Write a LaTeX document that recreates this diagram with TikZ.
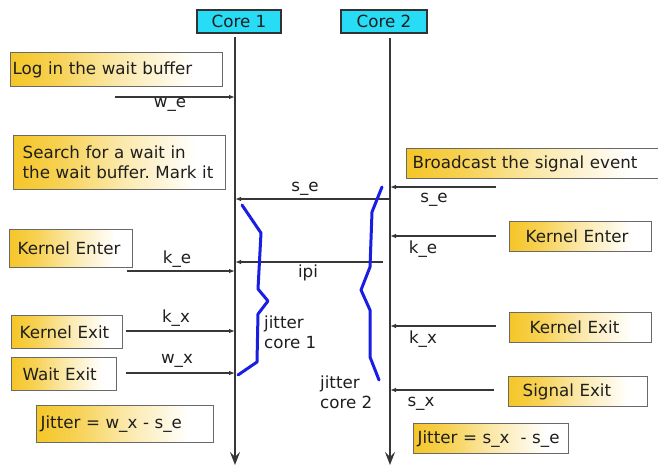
\documentclass[tikz,border=0pt]{standalone}
\usepackage{fontspec}
\setmainfont{DejaVu Sans}
\usetikzlibrary{arrows.meta}
\frenchspacing
\definecolor{gold}{RGB}{245,198,40}
\definecolor{cyanbox}{RGB}{40,220,245}
\definecolor{blueline}{RGB}{25,30,225}
\definecolor{lineg}{RGB}{55,55,55}
\definecolor{boxline}{RGB}{105,105,105}
\definecolor{coreline}{RGB}{50,50,50}
\definecolor{txt}{RGB}{30,30,30}
\pgfdeclarehorizontalshading{goldfade}{100bp}{color(0bp)=(gold); color(25bp)=(gold); color(36bp)=(gold!80!white); color(50bp)=(gold!40!white); color(68bp)=(white); color(100bp)=(white)}
\begin{document}
\begin{tikzpicture}[x=1pt,y=-1pt,
  every node/.style={font=\fontsize{16.7}{20}\selectfont, text=txt},
  core/.style={draw=coreline, line width=1.2pt, fill=cyanbox, minimum width=84pt, minimum height=23pt, inner sep=0pt},
  gbox/.style={draw=boxline, line width=1.3pt, shading=goldfade, anchor=north west, inner ysep=0pt, align=left},
  lbl/.style={inner sep=0pt},
  msg/.style={draw=lineg, line width=1.1pt, -{Latex[length=6pt,width=4.5pt]}},
  life/.style={draw=lineg, line width=1.4pt, -{Stealth[length=13pt,width=10pt,inset=5pt]}},
  jit/.style={draw=blueline, line width=3pt, line join=round, line cap=round}]
\path[use as bounding box] (0,0) rectangle (658,466);
\clip (0,0) rectangle (658,466);

% cores
\node[core] (core1) at (239,21.5) {Core 1};
\node[core, minimum width=86pt] (core2) at (384,21.5) {Core 2};

% lifelines
\coordinate (c1top) at (235,37);
\coordinate (c1bot) at (235,465);
\coordinate (c2top) at (390,38);
\coordinate (c2bot) at (390,465);
\draw[life] (c1top) -- (c1bot);
\draw[life] (c2top) -- (c2bot);

% left boxes
\node[gbox, minimum width=212pt, minimum height=34pt, inner xsep=2pt, text width=208pt] (log) at (10,52) {Log in the wait buffer};
\node[gbox, minimum width=212pt, minimum height=54pt, inner xsep=9pt, text width=194pt] (search) at (13,135) {Search for a wait in\\the wait buffer. Mark it};
\node[gbox, minimum width=123pt, minimum height=38pt, inner xsep=8pt, text width=107pt] (kenterL) at (9,229) {Kernel Enter};
\node[gbox, minimum width=111pt, minimum height=33pt, inner xsep=8pt, text width=95pt] (kexitL) at (11,315) {Kernel Exit};
\node[gbox, minimum width=105pt, minimum height=33pt, inner xsep=11pt, text width=83pt] (waitexit) at (11,357) {Wait Exit};
\node[gbox, minimum width=177pt, minimum height=37pt, inner xsep=4pt, text width=169pt] (jitterL) at (36,405) {Jitter = w\_x - s\_e};

% right boxes
\node[gbox, minimum width=260pt, minimum height=30pt, inner xsep=6pt, text width=248pt] (broadcast) at (406,148) {Broadcast the signal event};
\node[gbox, minimum width=142pt, minimum height=30pt, inner xsep=16pt, text width=110pt] (kenterR) at (509,221) {Kernel Enter};
\node[gbox, minimum width=142pt, minimum height=30pt, inner xsep=20pt, text width=102pt] (kexitR) at (509,312) {Kernel Exit};
\node[gbox, minimum width=139pt, minimum height=30pt, inner xsep=14pt, text width=111pt] (signalexit) at (508,376) {Signal Exit};
\node[gbox, minimum width=155pt, minimum height=30pt, inner xsep=4pt, text width=147pt] (jitterR) at (413,423) {Jitter = s\_x~~- s\_e};

% message endpoints
\coordinate (we0) at (115,97);  \coordinate (we1) at (235,97);
\coordinate (se0) at (389,199); \coordinate (se1) at (235,199);
\coordinate (ipi0) at (383,262); \coordinate (ipi1) at (235,262);
\coordinate (keL0) at (127,271); \coordinate (keL1) at (235,271);
\coordinate (kxL0) at (126,331); \coordinate (kxL1) at (235,331);
\coordinate (wxL0) at (126,373); \coordinate (wxL1) at (235,373);
\coordinate (seR0) at (496,187); \coordinate (seR1) at (390,187);
\coordinate (keR0) at (496,236); \coordinate (keR1) at (390,236);
\coordinate (kxR0) at (496,326); \coordinate (kxR1) at (390,326);
\coordinate (sxR0) at (494,390); \coordinate (sxR1) at (390,390);

\draw[msg] (we0) -- (we1);
\draw[msg] (se0) -- (se1);
\draw[msg] (ipi0) -- (ipi1);
\draw[msg] (keL0) -- (keL1);
\draw[msg] (kxL0) -- (kxL1);
\draw[msg] (wxL0) -- (wxL1);
\draw[msg] (seR0) -- (seR1);
\draw[msg] (keR0) -- (keR1);
\draw[msg] (kxR0) -- (kxR1);
\draw[msg] (sxR0) -- (sxR1);

% message labels
\node[lbl] (lwe) at (170,105) {w\_e};
\node[lbl] (lse1) at (305,189) {s\_e};
\node[lbl] (lipi) at (308,273) {ipi};
\node[lbl] (lkeL) at (177,259) {k\_e};
\node[lbl] (lkxL) at (176,318) {k\_x};
\node[lbl] (lwxL) at (177,361) {w\_x};
\node[lbl] (lseR) at (434,200) {s\_e};
\node[lbl] (lkeR) at (423,249) {k\_e};
\node[lbl] (lkxR) at (423,339) {k\_x};
\node[lbl] (lsxR) at (421,404) {s\_x};

% jitter brackets
\draw[jit] (242,205) -- (261,233) -- (258,289) -- (268,301) -- (258,314) -- (257,362) -- (238,375);
\draw[jit] (382,187) -- (372,212) -- (370,267) -- (361,290) -- (370,310) -- (370,357) -- (379,380);
\node[lbl, anchor=west, align=left] (jc1) at (264,332) {jitter\\core 1};
\node[lbl, anchor=west, align=left] (jc2) at (320,392) {jitter\\core 2};
\end{tikzpicture}
\end{document}
